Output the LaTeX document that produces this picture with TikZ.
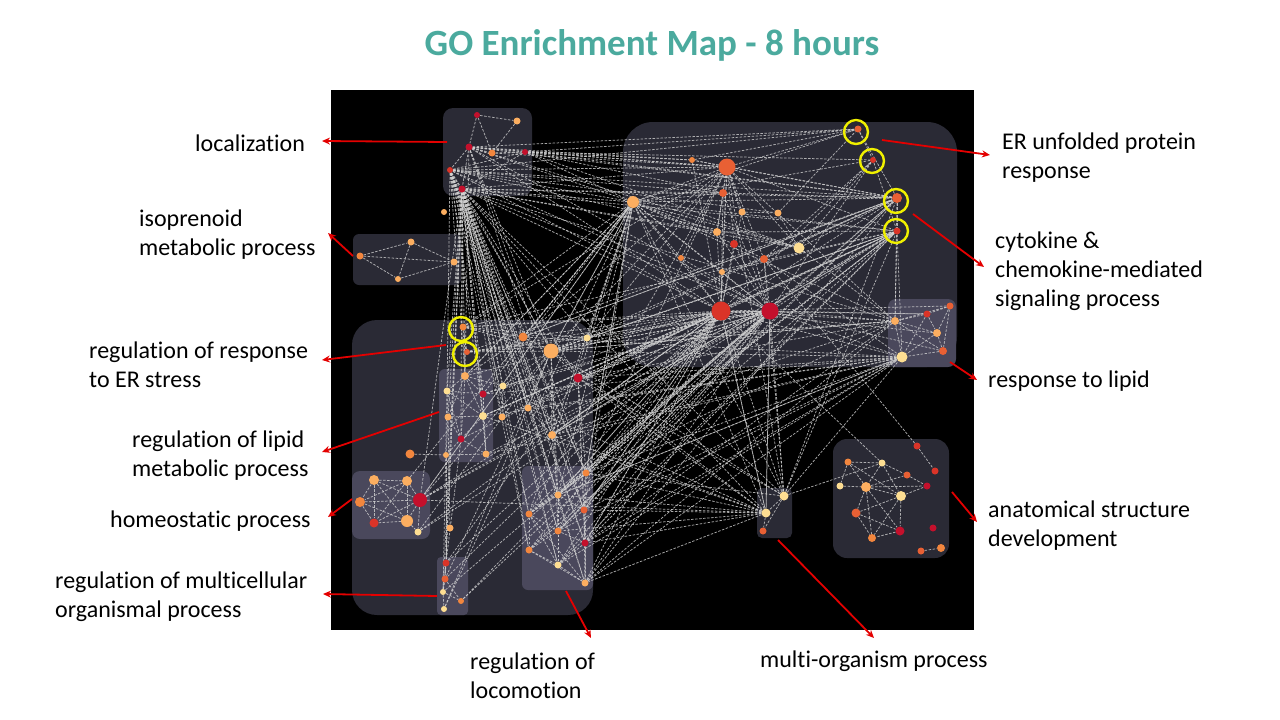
\documentclass[tikz,border=0pt]{standalone}
\usepackage{fontspec}
\setmainfont{Carlito}[Ligatures=NoCommon]
\usetikzlibrary{arrows.meta}
\definecolor{c1}{RGB}{196,16,44}
\definecolor{c2}{RGB}{218,52,40}
\definecolor{c3}{RGB}{232,96,52}
\definecolor{c4}{RGB}{242,134,62}
\definecolor{c5}{RGB}{252,174,96}
\definecolor{c6}{RGB}{254,222,146}
\definecolor{boxdark}{RGB}{42,42,53}
\definecolor{boxlight}{RGB}{74,72,92}
\definecolor{titlecol}{RGB}{75,170,158}
\definecolor{arrred}{RGB}{228,0,0}
\definecolor{ringcol}{RGB}{240,240,0}
\pgfdeclarelayer{bg}
\pgfdeclarelayer{edges}
\pgfsetlayers{bg,edges,main}
\begin{document}
\begin{tikzpicture}[x=1pt,y=-1pt,
  lnk/.style={draw=gray!35!white, line width=0.75pt, dash pattern=on 2.5pt off 1.5pt, opacity=0.8},
  ring/.style={circle, draw=ringcol, line width=2.4pt, minimum size=24pt, inner sep=0pt},
  arr/.style={draw=arrred, line width=1.8pt, -{Stealth[length=8pt,width=7pt]}},
  lab/.style={anchor=west, align=left, inner sep=0pt, font=\fontsize{24}{29}\selectfont, text=black},
  dkbox/.style={fill=boxdark},
  ltbox/.style={fill=boxlight}]
\useasboundingbox (0,0) rectangle (1280,720);

% background and cluster boxes
\begin{pgfonlayer}{bg}
\fill[white] (0,0) rectangle (1280,720);
\fill[black] (331,90) rectangle (974,630);
\fill[dkbox, rounded corners=30pt] (623,122) rectangle (957,367);
\fill[ltbox, rounded corners=8pt] (888,299) rectangle (956,367);
\fill[dkbox, rounded corners=10pt] (443,108) rectangle (532,196);
\fill[dkbox, rounded corners=6pt] (353,234) rectangle (461,285);
\fill[dkbox, rounded corners=25pt] (352,320) rectangle (593,615);
\fill[ltbox, rounded corners=6pt] (439,369) rectangle (493,462);
\fill[ltbox, rounded corners=8pt] (352,471) rectangle (430,539);
\fill[ltbox, rounded corners=4pt] (437,557) rectangle (468,615);
\fill[ltbox, rounded corners=6pt] (522,466) rectangle (593,590);
\fill[dkbox, rounded corners=5pt] (757,488) rectangle (792,538);
\fill[dkbox, rounded corners=14pt] (833,439) rectangle (949,558);
\end{pgfonlayer}

% title
\node[font=\fontsize{37}{40}\selectfont\bfseries, text=titlecol] (title) at (652,45) {GO Enrichment Map - 8 hours};

% network nodes
\foreach \n/\x/\y/\c/\r in {
 L1/477/115/c1/3, L2/517/121/c5/3.5, L3/469/147/c1/3.5, L4/492/153/c4/3.5, L5/525/152/c1/3,
 L6/450/170/c2/3, L7/462/189/c1/3.5, Z0/444/212/c5/3,
 P1/360/256/c4/3.5, P2/411/242/c5/3.5, P3/454/262/c5/3.5, P4/398/279/c5/3,
 E1/463/327/c4/3.5, E2/467/352/c3/3,
 A1/523/337/c4/4.5, A2/551/351/c5/7.5, A3/587/338/c6/3.5, A4/578/378/c1/4.5,
 A5/503/386/c6/3.5, A6/528/408/c5/3.5, A7/502/417/c5/3.5, A8/552/435/c5/4,
 A9/410/454/c4/4.5, A10/450/528/c5/3.5,
 R1/465/376/c5/4, R2/447/391/c6/3.5, R3/483/394/c1/3.5, R4/448/417/c5/3.5,
 R5/483/416/c6/4, R6/461/439/c1/3.5, R7/446/455/c5/3, R8/486/454/c5/3.5,
 H1/374/480/c5/5, H2/407/481/c5/5, H3/360/502/c4/5, H4/420/500/c1/7,
 H5/374/523/c2/4.5, H6/407/521/c5/6, H7/418/532/c6/3.5,
 U1/446/563/c2/3.5, U2/445/579/c3/3.5, U3/443/592/c6/3, U4/461/601/c4/3, U5/444/609/c6/3,
 C1/586/473/c4/3.5, C2/558/495/c5/3.5, C3/529/514/c4/3.5, C4/584/510/c3/3.5,
 C5/558/531/c4/3.5, C6/585/543/c1/3.5, C7/529/550/c4/3.5, C8/558/565/c6/3.5, C9/585/583/c5/3.5,
 M1/692/160/c4/3, M2/727/167/c3/8.5, M3/633/202/c5/6, M4/723/193/c3/4,
 M5/742/212/c5/3.5, M6/778/213/c5/3.5, M7/717/232/c5/4, M8/734/244/c2/4,
 M9/799/248/c6/5.5, M10/681/258/c4/3, M11/764/259/c3/4, M12/722/272/c5/3,
 M13/721/311/c2/9.5, M14/770/311/c1/8.5,
 F1/858/129/c3/3.5, F2/873/160/c2/3, K1/897/198/c3/5, K2/897/231/c2/3.5,
 Q1/950/306/c3/3.5, Q2/927/314/c2/3.5, Q3/895/321/c5/4, Q4/937/333/c5/4,
 Q5/943/351/c3/4, Q6/902/357/c6/5.5,
 O1/784/496/c6/4.5, O2/766/513/c6/4.5, O3/763/531/c3/3.5,
 N1/917/446/c2/3.5, N2/935/471/c2/3.5, N3/848/462/c4/3.5, N4/882/463/c6/3.5,
 N5/907/475/c3/3.5, N6/840/486/c6/3.5, N7/866/487/c5/5, N8/927/486/c1/3.5,
 N9/901/496/c6/5, N10/856/513/c3/4.5, N11/933/528/c1/3.5, N12/900/531/c1/4.5,
 N13/872/538/c4/4, N14/921/551/c3/3.5, N15/941/548/c4/4}
 \node[circle, inner sep=0pt, fill=\c, minimum size={2*\r pt}] (\n) at (\x,\y) {};

% yellow highlight rings
\node[ring] (yF1) at (856,132) {};
\node[ring] (yF2) at (872,161) {};
\node[ring] (yK1) at (896,201) {};
\node[ring] (yK2) at (896,231) {};
\node[ring] (yE1) at (461,329) {};
\node[ring] (yE2) at (465,354) {};

% dashed similarity edges
\begin{pgfonlayer}{edges}
\foreach \a/\b in {
 L1/L2, L1/L3, L1/L4, L2/L4, L3/L4, L3/L5, L4/L5, L3/L6, L3/L7, L6/L7, L6/L5, L7/L5,
 L3/M2, L3/M3, L3/M1, L5/M2, L5/M1, L5/F1, L6/M2, L6/M4, L6/M3, L7/M2, L7/M3, L7/M13,
 L7/M14, L7/K1, L3/K1, L6/F1, L5/F2, L6/K1, L7/K2, L3/M9, L6/M6, L7/M7, L4/M2, L5/M3,
 L7/E1, L7/A1, L7/A2, L7/A5, L7/R1, L7/R3, L7/R5, L7/A7, L7/A6, L7/C1, L7/C2, L7/C3,
 L7/C5, L7/C7, L7/C8, L7/C9, L7/H4, L7/U2, L7/A8, L7/A4, L7/O1, L6/R1, L6/A2, L6/C4,
 L6/C6, L3/A2, L3/C1, L6/R2, L7/R4, L7/U1, L6/A6, L7/C4, L7/C6,
 L7/R2, L7/R6, L7/R8, L7/A3, L7/O2, L7/U3, L6/C1, L6/C2, L6/C3, L6/C5, L6/C7, L6/C8,
 L6/C9, L6/A8, L6/R3, L6/R5, L3/R1, L3/C4, L3/M13, L3/M14, L5/K1, L5/M4, L6/M13,
 L6/M14, L7/Q3, L5/M9, L3/F1, L7/M4, L6/M9, L7/M9,
 P1/P2, P1/P3, P1/P4, P2/P3, P2/P4, P4/P3,
 E1/E2, E1/A1, E1/A2, E1/A3, E1/M3, E1/M13, E2/A2, E2/M13, E2/M14, E2/A3, E1/R1, E1/M2,
 E1/K2, E2/K1, E1/M14, E2/Q3,
 A1/A2, A2/A3, A2/A4, A2/A6, A2/A8, A2/C2, A2/C5, A2/M13, A2/M3, A3/M3, A3/M13, A3/K2,
 A4/C1, A4/C4, A4/C6, A4/M14, A5/R1, A5/A7, A5/A2, A6/A8, A8/C2, A8/M13, A1/R1, A1/M3,
 A1/M2, A9/R7, A10/R4, A3/M2, A4/M13, A6/M14,
 A2/M2, A2/M14, A2/K1, A2/K2, A2/Q3, A3/M14, A3/K1, A4/K2, A4/Q6, A8/M14, A8/K2, A6/M13,
 A7/M13, A5/M14, A1/M13, A1/K1,
 R1/R2, R1/R3, R1/R4, R1/R5, R2/R3, R2/R4, R2/R6, R3/R5, R4/R6, R4/R7, R5/R6, R5/R8,
 R6/R7, R6/R8, R7/R8, R2/R5, R1/R6, R4/R5, R3/R8, R7/U1, R2/U3,
 R1/M13, R1/M3, R3/M14, R5/M13, R5/K2, R8/M14, R8/Q6, R6/M13, R3/M3,
 H1/H2, H1/H3, H1/H5, H1/H4, H1/H6, H2/H4, H2/H3, H2/H6, H2/H5, H3/H5, H3/H4, H3/H6,
 H4/H6, H4/H5, H4/H7, H5/H6, H6/H7, H4/M13, H4/M3, H7/M13, H7/A2, H4/A2,
 H4/M14, H4/K2, H7/M14, H2/M3,
 U1/U2, U2/U3, U3/U5, U2/U4, U1/U3, U3/U4, U1/M13, U2/A2, U3/M14, U4/C1, U5/A2, U1/R6,
 U2/M13, U4/M14, U5/M3, U1/A4,
 C1/C2, C1/C3, C1/C4, C2/C3, C2/C4, C2/C5, C3/C5, C3/C7, C3/C8, C4/C5, C4/C6, C5/C6,
 C5/C7, C5/C8, C6/C8, C6/C9, C7/C8, C8/C9, C7/C9, C1/C9, C3/C9, C2/C8, C4/C9,
 C1/M13, C1/M14, C1/Q6, C2/M13, C4/M14, C4/Q6, C5/M2, C6/M14, C6/K2, C7/M13, C8/M14,
 C9/M13, C9/Q3, C3/M3, C9/K1, C5/Q6, C1/K2, C2/K1, C3/M2, C7/M14, C8/Q6, C6/M13,
 C1/M3, C2/M14, C3/M13, C4/K1, C5/M13, C5/M14, C6/Q3, C7/K2, C8/M13, C9/M14, C9/Q6,
 C2/Q6, C4/M13, C3/K2, C5/K1, C8/K2, C1/Q3, C6/Q6,
 O1/O2, O2/O3, O1/O3, O1/M13, O1/M14, O1/K2, O1/Q6, O2/M13, O2/A2, O2/C1, O2/A8, O2/M3,
 O1/M2, O2/C4, O1/A2, O2/H4, O2/C6, O1/N4, O2/C2, O1/M3, O2/A4, O2/C9,
 O1/M11, O2/M14, O1/K1, O2/R5, O2/A6, O1/C1, O2/C5, O1/A4,
 N3/N4, N3/N6, N3/N7, N4/N5, N4/N7, N5/N8, N6/N7, N7/N5, N7/N8, N7/N9, N7/N10, N7/N13,
 N7/N12, N9/N8, N9/N10, N9/N12, N9/N13, N10/N13, N10/N12, N12/N13, N1/N2, N14/N15,
 N3/N9, N4/N9, N1/M11, N4/M13,
 M2/M1, M2/M3, M2/M4, M2/M5, M2/M7, M2/M8, M2/M13, M2/M14, M2/F1, M2/K1, M2/M9, M2/M11,
 M2/M12, M2/M10, M3/M13, M3/M14, M3/M4, M3/M7, M3/M10, M3/K1, M3/Q3, M3/M9, M13/M14,
 M13/M8, M13/M12, M13/M7, M13/K1, M13/K2, M13/Q3, M13/Q6, M14/K2, M14/K1, M14/M11,
 M14/Q3, M14/Q2, M14/Q6, M9/K1, M9/F2, M8/M11, M4/M7, M5/M6, M6/M9, M6/F1, M11/K1,
 M11/F2, F1/F2, F1/K1, F2/K2, K1/K2, K1/Q3, K2/Q3, K2/Q6, K1/M1, F1/M1, F1/M3, F2/M13,
 M4/M13, M4/M14, M5/M13, M7/M14, M8/M14, M10/M13, M12/M14, M1/M13, M3/M12, M3/M8,
 M2/Q3, M2/K2, M3/K2, M3/F2, M4/K1, M7/K2, M10/M14, M12/K2, M9/Q3, M11/Q6, F2/M14,
 Q1/Q2, Q1/Q3, Q1/Q4, Q1/Q5, Q2/Q3, Q2/Q4, Q3/Q4, Q3/Q6, Q3/Q5, Q4/Q5, Q4/Q6, Q5/Q6, Q2/Q6,
 Q6/A2, Q6/A8, Q6/C2, Q6/R5, Q6/A6, Q3/A2, Q3/A4, Q1/M13,
 Q6/A1, Q6/R3, Q3/A8, Q2/M13, Q4/M13, Q5/M14,
 K2/A2, K2/C2, K2/A8, K1/A1, K2/R5,
 M3/A2, M3/A4, M3/C1, M3/C4, M3/R1, M3/A8, M3/H4, M3/C2, M3/A1,
 M13/A8, M13/C2, M13/C4, M13/C6, M13/O2, M13/R5, M13/R3,
 M14/C1, M14/C5, M14/O2, M14/A4, M14/A2, M14/C3}
 \draw[lnk] (\a) -- (\b);
\end{pgfonlayer}

% labels
\node[lab] (tLoc) at (195,143) {localization};
\node[lab] (tIso) at (139,234.5) {isoprenoid\\metabolic process};
\node[lab] (tERU) at (1002,157.5) {ER unfolded protein\\response};
\node[lab] (tCyt) at (995,271.5) {cytokine \&\\chemokine-mediated\\signaling process};
\node[lab] (tRL) at (988,381) {response to lipid};
\node[lab] (tERS) at (89,364.5) {regulation of response\\to ER stress};
\node[lab] (tLip) at (132,456) {regulation of lipid\\metabolic process};
\node[lab] (tHom) at (110,521) {homeostatic process};
\node[lab] (tMul) at (55,596.5) {regulation of multicellular\\organismal process};
\node[lab] (tAn) at (988,525.5) {anatomical structure\\development};
\node[lab] (tLoco) at (470,675.5) {regulation of\\locomotion};
\node[lab] (tMO) at (760,661) {multi-organism process};

% arrow end points
\coordinate (sLoc) at (447,142);  \coordinate (eLoc) at (322,141);
\coordinate (sIso) at (353,256);  \coordinate (eIso) at (328,233);
\coordinate (sERU) at (882,140);  \coordinate (eERU) at (990,155);
\coordinate (sCyt) at (913,214);  \coordinate (eCyt) at (984,267);
\coordinate (sRL) at (950,362);   \coordinate (eRL) at (977,380);
\coordinate (sAn) at (952,492);   \coordinate (eAn) at (977,522);
\coordinate (sERS) at (446,345);  \coordinate (eERS) at (322,360);
\coordinate (sLip) at (439,412);  \coordinate (eLip) at (322,452);
\coordinate (sHom) at (352,499);  \coordinate (eHom) at (328,517);
\coordinate (sMul) at (437,596);  \coordinate (eMul) at (323,594);
\coordinate (sLoco) at (566,591); \coordinate (eLoco) at (591,638);
\coordinate (sMO) at (778,540);   \coordinate (eMO) at (874,638);
\foreach \p in {Loc,Iso,ERU,Cyt,RL,An,ERS,Lip,Hom,Mul,Loco,MO}
 \draw[arr] (s\p) -- (e\p);
\end{tikzpicture}
\end{document}
